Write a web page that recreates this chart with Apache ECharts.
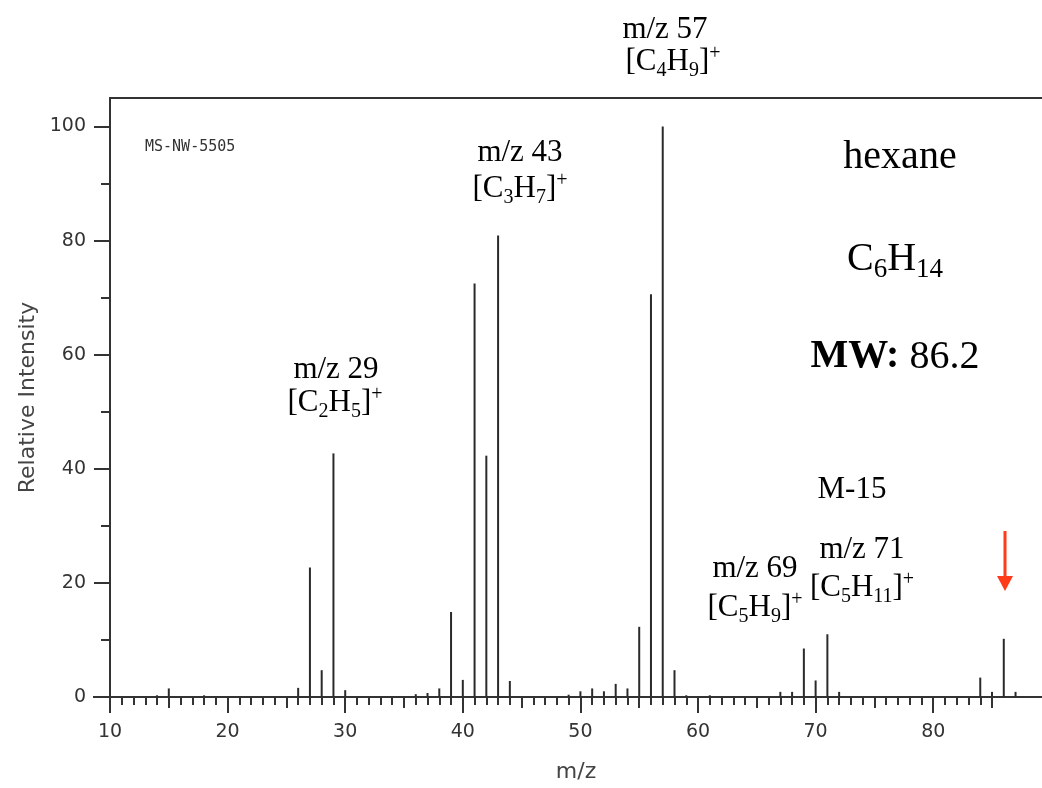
<!DOCTYPE html>
<html><head><meta charset="utf-8">
<script src="https://cdn.jsdelivr.net/npm/echarts@6/dist/echarts.min.js"></script>
<style>html,body{margin:0;padding:0;background:#fff}#c{width:1042px;height:788px}</style>
</head><body><div id="c"></div>
<script>
const mzValues    = [14, 15, 18, 26, 27, 28, 29, 30, 36, 37, 38, 39, 40, 41, 42, 43, 44, 49, 50, 51, 52, 53, 54, 55, 56, 57, 58, 59, 61, 67, 68, 69, 70, 71, 72, 84, 85, 86, 87];
const intensities = [0.3,1.5,0.3,1.6,22.7,4.7,42.7,1.2,0.5,0.7,1.5,14.9,3.0,72.5,42.3,80.9,2.8,0.4,1.0,1.5,1.0,2.3,1.5,12.3,70.6,100,4.7,0.3,0.3,0.9,0.9,8.5,2.9,11.0,0.9,3.4,0.9,10.2,0.9];
const xTickLabels = [10, 20, 30, 40, 50, 60, 70, 80];
const xMidTicks   = [15, 25, 35, 45, 55, 65, 75, 85];
const yTickLabels = [0, 20, 40, 60, 80, 100];
const yMinorTicks = [10, 30, 50, 70, 90];
const xMinorTicks = [];
for (let v = 11; v <= 85; v++) xMinorTicks.push(v);

const SANS = "'DejaVu Sans', Verdana, sans-serif";
const SERIF = "'Liberation Serif', 'Times New Roman', serif";
const AX = '#333';
const X_MIN = 10, X_MAX = 89.25;

function richSet(F, f, d, u) {
  const LH = Math.round(F * 1.2);
  const mainBase = LH / 2 + 0.3 * F;
  const subMid = mainBase + d - 0.3 * f;
  const supMid = mainBase - u - 0.3 * f;
  return {
    n: {fontSize: F, fontFamily: SERIF, lineHeight: LH, fill: '#000'},
    b: {fontSize: F, fontFamily: SERIF, lineHeight: LH, fill: '#000', fontWeight: 'bold'},
    s: {fontSize: f, fontFamily: SERIF, lineHeight: 2 * (LH - subMid), verticalAlign: 'bottom', fill: '#000'},
    p: {fontSize: f, fontFamily: SERIF, lineHeight: 2 * supMid, verticalAlign: 'top', fill: '#000'}
  };
}
function txt(x, y, text, rich) {
  return {type: 'text', x: x, y: y, z: 100,
    style: {text: text, rich: rich, align: 'center', verticalAlign: 'middle', fill: '#000', font: '31px ' + SERIF}};
}
const R31 = richSet(31, 20, 4, 14);
const R40 = richSet(40, 27, 8, 0);

const chart = echarts.init(document.getElementById('c'), null, {renderer: 'canvas'});
const tickStyle = {color: AX, width: 2};

function xa(extra) {
  return Object.assign({type: 'value', min: X_MIN, max: X_MAX, interval: 10, position: 'bottom',
    axisLine: {show: false}, axisLabel: {show: false}, splitLine: {show: false}}, extra);
}

chart.setOption({
  backgroundColor: '#fff',
  animation: false,
  grid: {left: 110, right: 0, top: 98, bottom: 91, containLabel: false},
  xAxis: [
    xa({axisLine: {show: true, onZero: false, lineStyle: {color: AX, width: 2}},
     axisTick: {show: true, inside: false, length: 16, lineStyle: tickStyle, customValues: xTickLabels},
     axisLabel: {show: true, margin: 26, fontFamily: SANS, fontSize: 19, color: AX, customValues: xTickLabels},
     name: 'm/z', nameLocation: 'middle', nameGap: 64,
     nameTextStyle: {fontFamily: SANS, fontSize: 22, color: '#444'}}),
    xa({axisTick: {show: true, inside: false, length: 11, lineStyle: tickStyle, customValues: xMidTicks}}),
    xa({axisTick: {show: true, inside: false, length: 8, lineStyle: tickStyle, customValues: xMinorTicks}}),
    xa({position: 'top', axisLine: {show: true, onZero: false, lineStyle: {color: AX, width: 2}}, axisTick: {show: false}})
  ],
  yAxis: [
    {type: 'value', min: 0, max: 105, interval: 20, position: 'left',
     axisLine: {show: true, onZero: false, lineStyle: {color: AX, width: 2}},
     axisTick: {show: true, inside: false, length: 16, lineStyle: tickStyle, customValues: yTickLabels},
     axisLabel: {show: true, margin: 24, fontFamily: SANS, fontSize: 19, color: AX, customValues: yTickLabels},
     splitLine: {show: false},
     name: 'Relative Intensity', nameLocation: 'middle', nameGap: 70,
     nameTextStyle: {fontFamily: SANS, fontSize: 22, color: '#444'}},
    {type: 'value', min: 0, max: 105, interval: 20, position: 'left',
     axisLine: {show: false},
     axisTick: {show: true, inside: false, length: 9, lineStyle: tickStyle, customValues: yMinorTicks},
     axisLabel: {show: false}, splitLine: {show: false}}
  ],
  series: [{
    type: 'bar', xAxisIndex: 0, yAxisIndex: 0,
    barWidth: 2,
    itemStyle: {color: '#2a2a2a'},
    data: mzValues.map((m, i) => [m, intensities[i]])
  }],
  graphic: [
    {type: 'line', shape: {x1: 93, y1: 697, x2: 110, y2: 697}, style: {stroke: AX, lineWidth: 2}},
    {type: 'text', x: 145, y: 147, style: {text: 'MS-NW-5505', font: '15px "DejaVu Sans Mono", monospace', fill: '#333', verticalAlign: 'middle'}},
    txt(665, 30, '{n|m/z 57}', R31),
    txt(673, 62, '{n|[C}{s|4}{n|H}{s|9}{n|]}{p|+}', R31),
    txt(520, 153, '{n|m/z 43}', R31),
    txt(520, 189, '{n|[C}{s|3}{n|H}{s|7}{n|]}{p|+}', R31),
    txt(336, 370, '{n|m/z 29}', R31),
    txt(335, 403, '{n|[C}{s|2}{n|H}{s|5}{n|]}{p|+}', R31),
    txt(900, 157, '{n|hexane}', R40),
    txt(895, 259, '{n|C}{s|6}{n|H}{s|14}', R40),
    txt(895, 357, '{b|MW:}{n| 86.2}', R40),
    txt(852, 490, '{n|M-15}', R31),
    txt(862, 550, '{n|m/z 71}', R31),
    txt(862, 588, '{n|[C}{s|5}{n|H}{s|11}{n|]}{p|+}', R31),
    txt(755, 569, '{n|m/z 69}', R31),
    txt(755, 608, '{n|[C}{s|5}{n|H}{s|9}{n|]}{p|+}', R31),
    {type: 'rect', shape: {x: 1003.5, y: 531, width: 3, height: 47}, style: {fill: '#ff3b1a'}},
    {type: 'polygon', shape: {points: [[997, 576], [1013, 576], [1005, 591]]}, style: {fill: '#ff3b1a'}}
  ]
});
</script>
</body></html>
